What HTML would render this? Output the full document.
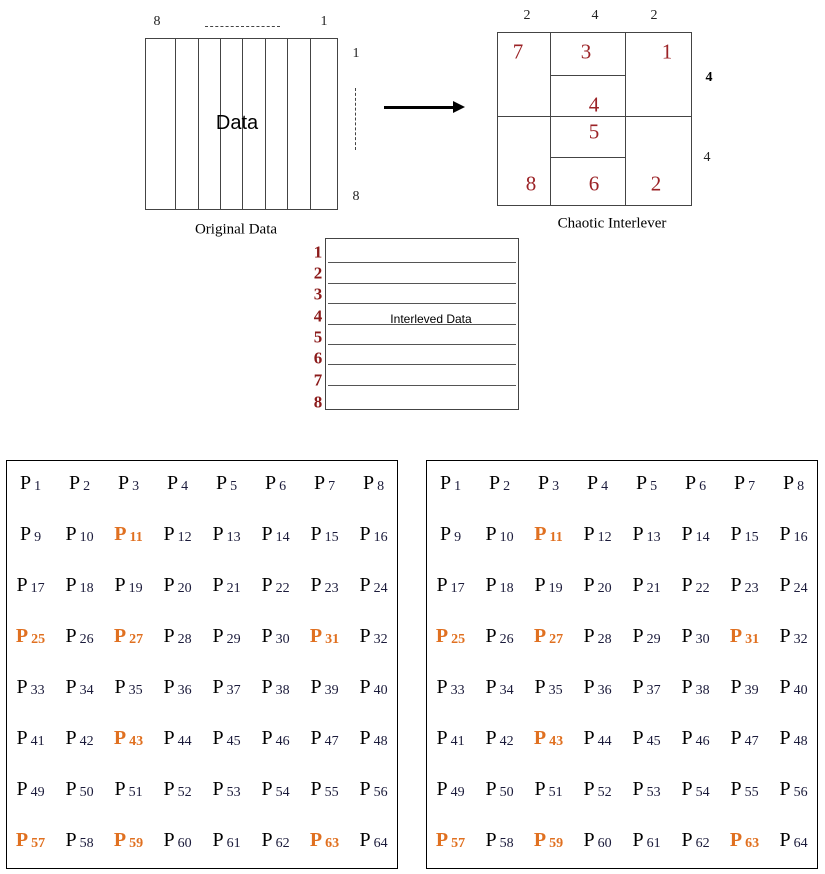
<!DOCTYPE html>
<html><head><meta charset="utf-8"><style>
body{margin:0;width:825px;height:874px;background:#fff;position:relative;overflow:hidden;font-family:"Liberation Serif",serif;}
.a{position:absolute;}
.t{position:absolute;transform:translate(-50%,-50%);white-space:nowrap;line-height:1;}
.r{color:#9b2226;font-size:21px;}
.n{font-size:14px;color:#222;}
.rn{font-size:17px;font-weight:bold;color:#8b1a1a;}
.g{position:absolute;display:grid;grid-template-columns:repeat(8,49px);grid-template-rows:repeat(8,51px);}
.g span{display:flex;align-items:center;justify-content:center;font-size:20px;color:#000;}
.g sub{font-size:14px;position:relative;top:3px;margin-left:3px;color:#1a1a3a;}
.g .o{color:#e07020;font-weight:bold;}
.g .o sub{color:#e07020;}
.box{position:absolute;border:1.5px solid #000;box-sizing:border-box;}
</style></head><body>
<div class="a" style="left:145px;top:38px;width:193px;height:172px;border:1.5px solid #444;box-sizing:border-box;"></div>
<div class="a" style="left:175px;top:38px;width:1px;height:172px;background:#444"></div>
<div class="a" style="left:198px;top:38px;width:1px;height:172px;background:#444"></div>
<div class="a" style="left:220px;top:38px;width:1px;height:172px;background:#444"></div>
<div class="a" style="left:242px;top:38px;width:1px;height:172px;background:#444"></div>
<div class="a" style="left:265px;top:38px;width:1px;height:172px;background:#444"></div>
<div class="a" style="left:287px;top:38px;width:1px;height:172px;background:#444"></div>
<div class="a" style="left:310px;top:38px;width:1px;height:172px;background:#444"></div>
<div class="t n" style="left:157px;top:22px;">8</div>
<div class="a" style="left:205px;top:26px;width:75px;border-top:1px dashed #444"></div>
<div class="t n" style="left:324px;top:22px;">1</div>
<div class="t n" style="left:356px;top:54px;">1</div>
<div class="a" style="left:355px;top:88px;height:62px;border-left:1px dashed #444"></div>
<div class="t n" style="left:356px;top:197px;">8</div>
<div class="t" style="left:237px;top:123px;font-family:'Liberation Sans',sans-serif;font-size:20px;">Data</div>
<div class="t" style="left:236px;top:230px;font-size:15px;">Original Data</div>
<div class="a" style="left:384px;top:106px;width:70px;height:3px;background:#000"></div>
<div class="a" style="left:453px;top:101px;width:0;height:0;border-left:12px solid #000;border-top:6px solid transparent;border-bottom:6px solid transparent"></div>
<div class="a" style="left:497px;top:32px;width:195px;height:174px;border:1.5px solid #444;box-sizing:border-box;"></div>
<div class="a" style="left:550px;top:32px;width:1px;height:174px;background:#444"></div>
<div class="a" style="left:625px;top:32px;width:1px;height:174px;background:#444"></div>
<div class="a" style="left:497px;top:116px;width:195px;height:1px;background:#444"></div>
<div class="a" style="left:550px;top:75px;width:75px;height:1px;background:#444"></div>
<div class="a" style="left:550px;top:157px;width:75px;height:1px;background:#444"></div>
<div class="t n" style="left:527px;top:16px;">2</div>
<div class="t n" style="left:595px;top:16px;">4</div>
<div class="t n" style="left:654px;top:16px;">2</div>
<div class="t n" style="left:709px;top:78px;font-weight:bold;color:#000">4</div>
<div class="t n" style="left:707px;top:158px;">4</div>
<div class="t r" style="left:518px;top:52px;">7</div>
<div class="t r" style="left:586px;top:52px;">3</div>
<div class="t r" style="left:667px;top:52px;">1</div>
<div class="t r" style="left:594px;top:105px;">4</div>
<div class="t r" style="left:594px;top:132px;">5</div>
<div class="t r" style="left:531px;top:184px;">8</div>
<div class="t r" style="left:594px;top:184px;">6</div>
<div class="t r" style="left:656px;top:184px;">2</div>
<div class="t" style="left:612px;top:224px;font-size:15px;">Chaotic Interlever</div>
<div class="a" style="left:325px;top:238px;width:194px;height:172px;border:1.5px solid #444;box-sizing:border-box;"></div>
<div class="a" style="left:328px;top:262px;width:188px;height:1px;background:#555"></div>
<div class="a" style="left:328px;top:283px;width:188px;height:1px;background:#555"></div>
<div class="a" style="left:328px;top:303px;width:188px;height:1px;background:#555"></div>
<div class="a" style="left:328px;top:324px;width:188px;height:1px;background:#555"></div>
<div class="a" style="left:328px;top:344px;width:188px;height:1px;background:#555"></div>
<div class="a" style="left:328px;top:364px;width:188px;height:1px;background:#555"></div>
<div class="a" style="left:328px;top:385px;width:188px;height:1px;background:#555"></div>
<div class="t rn" style="left:318px;top:252px;">1</div>
<div class="t rn" style="left:318px;top:273px;">2</div>
<div class="t rn" style="left:318px;top:294px;">3</div>
<div class="t rn" style="left:318px;top:316px;">4</div>
<div class="t rn" style="left:318px;top:337px;">5</div>
<div class="t rn" style="left:318px;top:358px;">6</div>
<div class="t rn" style="left:318px;top:380px;">7</div>
<div class="t rn" style="left:318px;top:402px;">8</div>
<div class="t" style="left:431px;top:319px;font-family:'Liberation Sans',sans-serif;font-size:12px;">Interleved Data</div>
<div class="box" style="left:6px;top:460px;width:392px;height:409px;"></div>
<div class="box" style="left:426px;top:460px;width:392px;height:409px;"></div>
<div class="g" style="left:6px;top:458px;">
<span>P<sub>1</sub></span><span>P<sub>2</sub></span><span>P<sub>3</sub></span><span>P<sub>4</sub></span><span>P<sub>5</sub></span><span>P<sub>6</sub></span><span>P<sub>7</sub></span><span>P<sub>8</sub></span>
<span>P<sub>9</sub></span><span>P<sub>10</sub></span><span class="o">P<sub>11</sub></span><span>P<sub>12</sub></span><span>P<sub>13</sub></span><span>P<sub>14</sub></span><span>P<sub>15</sub></span><span>P<sub>16</sub></span>
<span>P<sub>17</sub></span><span>P<sub>18</sub></span><span>P<sub>19</sub></span><span>P<sub>20</sub></span><span>P<sub>21</sub></span><span>P<sub>22</sub></span><span>P<sub>23</sub></span><span>P<sub>24</sub></span>
<span class="o">P<sub>25</sub></span><span>P<sub>26</sub></span><span class="o">P<sub>27</sub></span><span>P<sub>28</sub></span><span>P<sub>29</sub></span><span>P<sub>30</sub></span><span class="o">P<sub>31</sub></span><span>P<sub>32</sub></span>
<span>P<sub>33</sub></span><span>P<sub>34</sub></span><span>P<sub>35</sub></span><span>P<sub>36</sub></span><span>P<sub>37</sub></span><span>P<sub>38</sub></span><span>P<sub>39</sub></span><span>P<sub>40</sub></span>
<span>P<sub>41</sub></span><span>P<sub>42</sub></span><span class="o">P<sub>43</sub></span><span>P<sub>44</sub></span><span>P<sub>45</sub></span><span>P<sub>46</sub></span><span>P<sub>47</sub></span><span>P<sub>48</sub></span>
<span>P<sub>49</sub></span><span>P<sub>50</sub></span><span>P<sub>51</sub></span><span>P<sub>52</sub></span><span>P<sub>53</sub></span><span>P<sub>54</sub></span><span>P<sub>55</sub></span><span>P<sub>56</sub></span>
<span class="o">P<sub>57</sub></span><span>P<sub>58</sub></span><span class="o">P<sub>59</sub></span><span>P<sub>60</sub></span><span>P<sub>61</sub></span><span>P<sub>62</sub></span><span class="o">P<sub>63</sub></span><span>P<sub>64</sub></span>
</div>
<div class="g" style="left:426px;top:458px;">
<span>P<sub>1</sub></span><span>P<sub>2</sub></span><span>P<sub>3</sub></span><span>P<sub>4</sub></span><span>P<sub>5</sub></span><span>P<sub>6</sub></span><span>P<sub>7</sub></span><span>P<sub>8</sub></span>
<span>P<sub>9</sub></span><span>P<sub>10</sub></span><span class="o">P<sub>11</sub></span><span>P<sub>12</sub></span><span>P<sub>13</sub></span><span>P<sub>14</sub></span><span>P<sub>15</sub></span><span>P<sub>16</sub></span>
<span>P<sub>17</sub></span><span>P<sub>18</sub></span><span>P<sub>19</sub></span><span>P<sub>20</sub></span><span>P<sub>21</sub></span><span>P<sub>22</sub></span><span>P<sub>23</sub></span><span>P<sub>24</sub></span>
<span class="o">P<sub>25</sub></span><span>P<sub>26</sub></span><span class="o">P<sub>27</sub></span><span>P<sub>28</sub></span><span>P<sub>29</sub></span><span>P<sub>30</sub></span><span class="o">P<sub>31</sub></span><span>P<sub>32</sub></span>
<span>P<sub>33</sub></span><span>P<sub>34</sub></span><span>P<sub>35</sub></span><span>P<sub>36</sub></span><span>P<sub>37</sub></span><span>P<sub>38</sub></span><span>P<sub>39</sub></span><span>P<sub>40</sub></span>
<span>P<sub>41</sub></span><span>P<sub>42</sub></span><span class="o">P<sub>43</sub></span><span>P<sub>44</sub></span><span>P<sub>45</sub></span><span>P<sub>46</sub></span><span>P<sub>47</sub></span><span>P<sub>48</sub></span>
<span>P<sub>49</sub></span><span>P<sub>50</sub></span><span>P<sub>51</sub></span><span>P<sub>52</sub></span><span>P<sub>53</sub></span><span>P<sub>54</sub></span><span>P<sub>55</sub></span><span>P<sub>56</sub></span>
<span class="o">P<sub>57</sub></span><span>P<sub>58</sub></span><span class="o">P<sub>59</sub></span><span>P<sub>60</sub></span><span>P<sub>61</sub></span><span>P<sub>62</sub></span><span class="o">P<sub>63</sub></span><span>P<sub>64</sub></span>
</div>
</body></html>
